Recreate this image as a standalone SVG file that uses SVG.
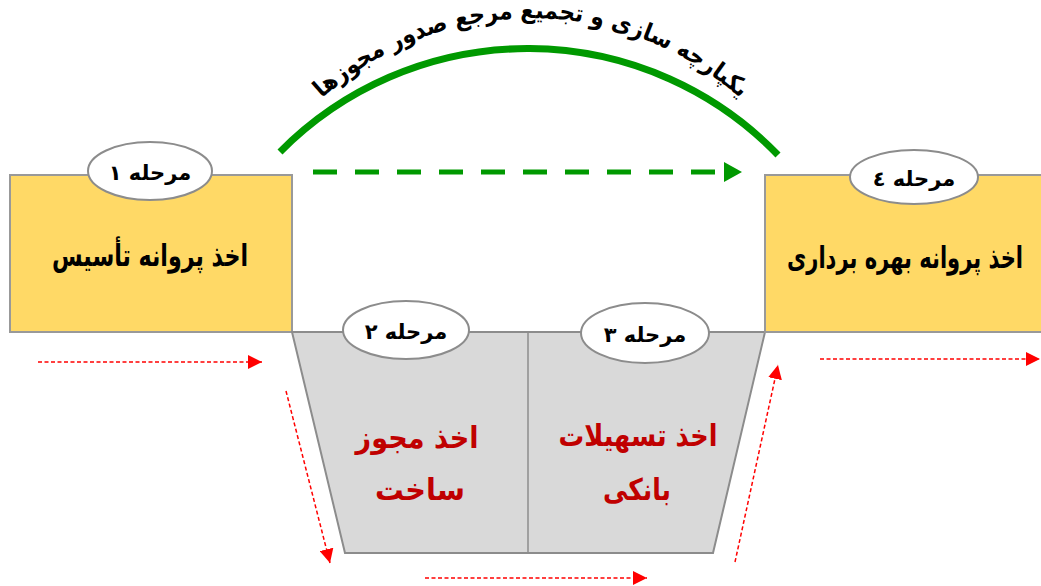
<svg xmlns="http://www.w3.org/2000/svg" width="1041" height="586" viewBox="0 0 1041 586">
<style>
.box{fill:#FFD966;stroke:#999;stroke-width:2}
.trap{fill:#D9D9D9;stroke:#8C8C8C;stroke-width:2}
.oval{fill:#fff;stroke:#8C8C8C;stroke-width:2}
.lbl{font-family:"DejaVu Sans",sans-serif;font-weight:bold;font-size:21px;fill:#000;text-anchor:middle;direction:rtl}
.main{font-family:"DejaVu Sans",sans-serif;font-weight:bold;font-size:30px;fill:#000;text-anchor:middle;direction:rtl}
.red{font-family:"DejaVu Sans",sans-serif;font-weight:bold;font-size:30px;fill:#C00000;text-anchor:middle;direction:rtl}
.rd{fill:none;stroke:#FF0000;stroke-width:1.5;stroke-dasharray:4 2.5}
.arc{font-family:"DejaVu Sans",sans-serif;font-weight:bold;font-size:24px;fill:#000;direction:rtl}
</style>
<defs>
<marker id="rhb" viewBox="0 0 10 10" refX="10" refY="5" markerWidth="14" markerHeight="14" markerUnits="userSpaceOnUse" orient="auto"><path d="M0,0 L10,5 L0,10 Z" fill="#FF0000"/></marker>
<path id="tp" d="M260,174.5 A313,313 0 0 1 802,174.5"/>
</defs>
<rect width="1041" height="586" fill="#fff"/>
<g id="stage1">
<rect class="box" x="10" y="175" width="282" height="157"/>
<ellipse class="oval" cx="150" cy="171" rx="62" ry="29"/>
<text class="lbl" x="150" y="180">مرحله ١</text>
<text class="main" x="150" y="266" textLength="196" lengthAdjust="spacingAndGlyphs">اخذ پروانه تأسیس</text>
</g>
<g id="stage23">
<path class="trap" d="M292,332 L765,332 L713,553 L345,553 Z"/>
<line x1="528" y1="332" x2="528" y2="553" stroke="#8C8C8C" stroke-width="1.5"/>
</g>
<g id="stage2">
<ellipse class="oval" cx="406" cy="330" rx="63" ry="29"/>
<text class="lbl" x="406" y="339">مرحله ٢</text>
<text class="red" x="417" y="448" textLength="123" lengthAdjust="spacingAndGlyphs">اخذ مجوز</text>
<text class="red" x="420" y="500" textLength="90" lengthAdjust="spacingAndGlyphs">ساخت</text>
</g>
<g id="stage3">
<ellipse class="oval" cx="645" cy="333" rx="64" ry="30"/>
<text class="lbl" x="645" y="342">مرحله ٣</text>
<text class="red" x="638" y="446" textLength="159" lengthAdjust="spacingAndGlyphs">اخذ تسهیلات</text>
<text class="red" x="637" y="500" textLength="68" lengthAdjust="spacingAndGlyphs">بانکی</text>
</g>
<g id="stage4">
<rect class="box" x="765" y="175" width="290" height="157"/>
<ellipse class="oval" cx="914" cy="177" rx="64" ry="27"/>
<text class="lbl" x="914" y="186">مرحله ٤</text>
<text class="main" x="905" y="268" textLength="236" lengthAdjust="spacingAndGlyphs">اخذ پروانه بهره برداری</text>
</g>
<g id="connectors">
<path d="M280,152 A348,348 0 0 1 778,155" fill="none" stroke="#009900" stroke-width="7"/>
<line x1="313" y1="172" x2="727" y2="172" stroke="#009900" stroke-width="5" stroke-dasharray="24 18"/>
<path d="M724,162 L742,172 L724,182 Z" fill="#009900"/>
<text class="arc"><textPath href="#tp" startOffset="50%" text-anchor="middle" textLength="458" lengthAdjust="spacingAndGlyphs">یکپارچه سازی و تجمیع مرجع صدور مجوزها</textPath></text>
<line class="rd" x1="38" y1="362" x2="262" y2="362" marker-end="url(#rhb)"/>
<line class="rd" x1="286" y1="391" x2="330" y2="563" marker-end="url(#rhb)"/>
<line class="rd" x1="425" y1="578" x2="647" y2="578" marker-end="url(#rhb)"/>
<line class="rd" x1="735" y1="562" x2="778" y2="365" marker-end="url(#rhb)"/>
<line class="rd" x1="820" y1="359" x2="1040" y2="359" marker-end="url(#rhb)"/>
</g>
</svg>
